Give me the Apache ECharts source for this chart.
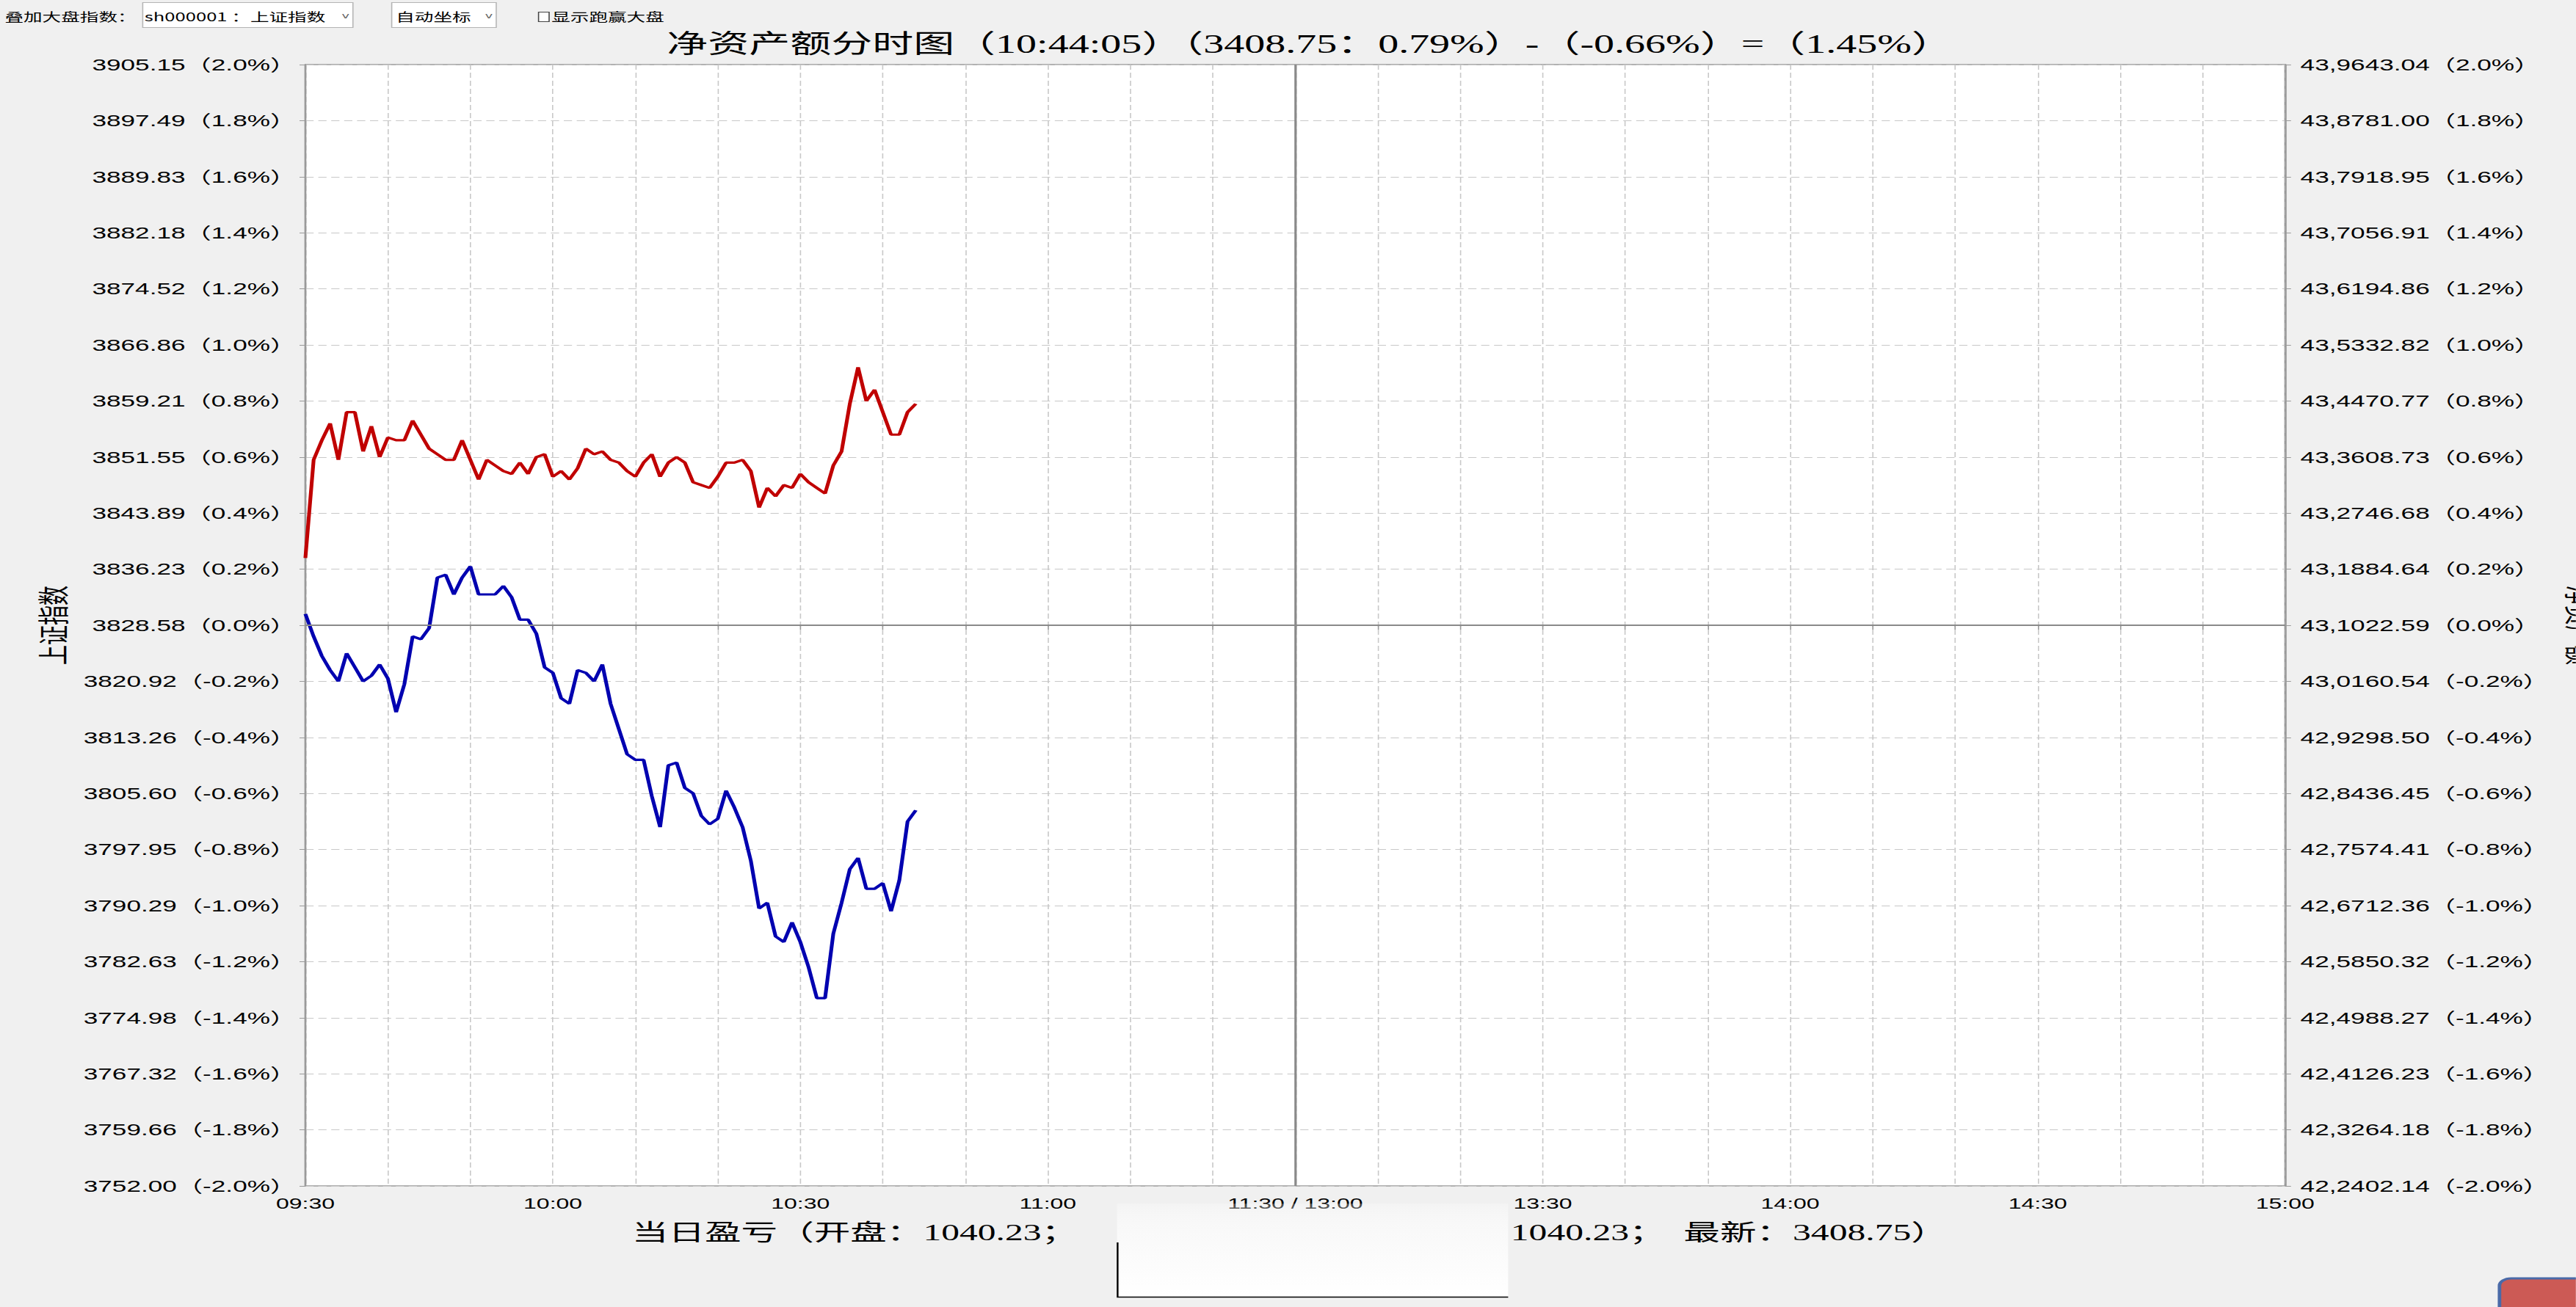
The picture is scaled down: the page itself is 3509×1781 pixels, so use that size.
<!DOCTYPE html>
<html>
<head>
<meta charset="utf-8">
<script src="https://cdn.jsdelivr.net/npm/echarts@6/dist/echarts.min.js"></script>
<style>
  html, body { margin:0; padding:0; background:#f0f0f0; overflow:hidden; width:3509px; height:1781px; }
  #wrap { position:absolute; left:0; top:0; width:2193.125px; height:1781px; transform:scaleX(1.6); transform-origin:0 0; }
  #chart { position:absolute; left:0; top:0; width:2193.125px; height:1781px; }
  .ui { position:absolute; font-family:"Noto Sans CJK SC", sans-serif; font-size:16px; color:#000; white-space:nowrap; line-height:20px; }
  .box { position:absolute; background:#fff; border:1px solid #b4b4b4; box-sizing:border-box; }
  .arrow { position:absolute; font-family:"DejaVu Sans", sans-serif; font-size:11px; color:#666; }
</style>
</head>
<body>
<div id="wrap">
  <div id="chart"></div>
  <div class="ui" style="left:4px;top:12px;">叠加大盘指数：</div>
  <div class="box" style="left:120.6px;top:3px;width:180.6px;height:35px;"></div>
  <div class="ui" style="left:123px;top:12px;">sh000001 ：上证指数</div>
  <div class="arrow" style="left:291px;top:15px;">v</div>
  <div class="box" style="left:332.5px;top:3px;width:90.6px;height:35px;"></div>
  <div class="ui" style="left:337px;top:12px;">自动坐标</div>
  <div class="arrow" style="left:413px;top:15px;">v</div>
  <div class="ui" style="left:457.5px;top:12px;"><span style="display:inline-block;width:8px;height:12px;border:1px solid #444;margin-right:2px;vertical-align:-1px;background:#fff;"></span>显示跑赢大盘</div>
</div>
<script>
// ---- data (percent change vs. previous close), one point per minute from 09:30 ----
const netAssetPct = [0.24,0.59,0.66,0.72,0.59,0.76,0.76,0.62,0.71,0.60,
  0.67,0.66,0.66,0.73,0.68,0.63,0.61,0.59,0.59,0.66,
  0.59,0.52,0.59,0.57,0.55,0.54,0.58,0.54,0.60,0.61,
  0.53,0.55,0.52,0.56,0.63,0.61,0.62,0.59,0.58,0.55,
  0.53,0.58,0.61,0.53,0.58,0.60,0.58,0.51,0.50,0.49,
  0.53,0.58,0.58,0.59,0.55,0.42,0.49,0.46,0.50,0.49,
  0.54,0.51,0.49,0.47,0.57,0.62,0.79,0.92,0.80,0.84,
  0.76,0.68,0.68,0.76,0.79];
const indexPct = [0.04,-0.04,-0.11,-0.16,-0.20,-0.10,-0.15,-0.20,-0.18,-0.14,
  -0.19,-0.31,-0.21,-0.04,-0.05,-0.01,0.17,0.18,0.11,0.17,
  0.21,0.11,0.11,0.11,0.14,0.10,0.02,0.02,-0.03,-0.15,
  -0.17,-0.26,-0.28,-0.16,-0.17,-0.20,-0.14,-0.28,-0.37,-0.46,
  -0.48,-0.48,-0.61,-0.72,-0.50,-0.49,-0.58,-0.60,-0.68,-0.71,
  -0.69,-0.59,-0.65,-0.72,-0.84,-1.01,-0.99,-1.11,-1.13,-1.06,
  -1.13,-1.22,-1.33,-1.33,-1.10,-0.99,-0.87,-0.83,-0.94,-0.94,
  -0.92,-1.02,-0.91,-0.70,-0.66];
const timeLabels = ['09:30','10:00','10:30','11:00','11:30 / 13:00','13:30','14:00','14:30','15:00'];
const leftTickValues = ['3752.00','3759.66','3767.32','3774.98','3782.63','3790.29','3797.95','3805.60','3813.26','3820.92',
  '3828.58','3836.23','3843.89','3851.55','3859.21','3866.86','3874.52','3882.18','3889.83','3897.49','3905.15'];
const rightTickValues = ['42,2402.14','42,3264.18','42,4126.23','42,4988.27','42,5850.32','42,6712.36','42,7574.41','42,8436.45','42,9298.50','43,0160.54',
  '43,1022.59','43,1884.64','43,2746.68','43,3608.73','43,4470.77','43,5332.82','43,6194.86','43,7056.91','43,7918.95','43,8781.00','43,9643.04'];
const pctTickLabels = ['-2.0%','-1.8%','-1.6%','-1.4%','-1.2%','-1.0%','-0.8%','-0.6%','-0.4%','-0.2%',
  '0.0%','0.2%','0.4%','0.6%','0.8%','1.0%','1.2%','1.4%','1.6%','1.8%','2.0%'];
const titleText = '净资产额分时图（10:44:05）（3408.75：0.79%）-（-0.66%）=（1.45%）';
const footLeft = '当日盈亏（开盘：1040.23；';
const footRight = '1040.23；  最新：3408.75）';

const chart = echarts.init(document.getElementById('chart'), null, { renderer: 'svg' });
const tickIdx = v => Math.round((v + 2) * 5);
const labelFont = '"Liberation Sans", "Noto Sans CJK SC", sans-serif';
const serifFont = '"Liberation Serif", "Noto Sans CJK SC", serif';

const option = {
  animation: false,
  backgroundColor: '#f0f0f0',
  grid: { left: 260, right: 247.5, top: 88, bottom: 165, outerBoundsMode: 'none', containLabel: false,
    show: true, backgroundColor: '#ffffff', borderColor: '#9a9a9a', borderWidth: 1.5 },
  xAxis: {
    type: 'value', min: 0, max: 240, interval: 10,
    axisLine: { lineStyle: { color: '#9a9a9a', width: 1.5 } },
    axisTick: { length: 6, lineStyle: { color: '#9a9a9a', width: 1 } },
    splitLine: { show: true, lineStyle: { color: '#c8c8c8', width: 1, type: [7, 4] } },
    axisLabel: {
      color: '#000', fontFamily: labelFont, fontSize: 20, margin: 14,
      formatter: v => (v % 30 === 0 ? timeLabels[v / 30] : '')
    }
  },
  yAxis: [
    {
      type: 'value', min: -2, max: 2, interval: 0.2, position: 'left',
      name: '上证指数', nameLocation: 'middle', nameGap: 198, nameRotate: 90,
      nameTextStyle: { color: '#000', fontFamily: serifFont, fontSize: 27 },
      axisLine: { show: true, lineStyle: { color: '#9a9a9a', width: 1.5 } },
      axisTick: { show: true, length: 5, lineStyle: { color: '#9a9a9a' } },
      splitLine: { show: true, lineStyle: { color: '#c8c8c8', width: 1, type: [7, 4] } },
      axisLabel: {
        color: '#000', fontFamily: labelFont, fontSize: 22, margin: 8,
        formatter: v => leftTickValues[tickIdx(v)] + '（' + pctTickLabels[tickIdx(v)] + '）'
      }
    },
    {
      type: 'value', min: -2, max: 2, interval: 0.2, position: 'right',
      name: '净资产额', nameLocation: 'middle', nameGap: 236, nameRotate: -90,
      nameTextStyle: { color: '#000', fontFamily: serifFont, fontSize: 27 },
      axisLine: { show: true, lineStyle: { color: '#9a9a9a', width: 1.5 } },
      axisTick: { show: true, length: 5, lineStyle: { color: '#9a9a9a' } },
      splitLine: { show: false },
      axisLabel: {
        color: '#000', fontFamily: labelFont, fontSize: 22, margin: 13,
        formatter: v => rightTickValues[tickIdx(v)] + '（' + pctTickLabels[tickIdx(v)] + '）'
      }
    }
  ],
  series: [
    {
      type: 'line', data: [], yAxisIndex: 0, z: 1,
      markLine: {
        silent: true, symbol: 'none', label: { show: false }, animation: false,
        lineStyle: { color: '#8a8a8a', width: 2, type: 'solid' },
        data: [{ yAxis: 0 }, { xAxis: 120 }]
      }
    },
    {
      name: '净资产额', type: 'line', yAxisIndex: 1, z: 3,
      data: netAssetPct.map((v, i) => [i, v]),
      showSymbol: false, lineStyle: { color: '#c00000', width: 3.2 }, itemStyle: { color: '#c00000' }
    },
    {
      name: '上证指数', type: 'line', yAxisIndex: 0, z: 3,
      data: indexPct.map((v, i) => [i, v]),
      showSymbol: false, lineStyle: { color: '#0000b0', width: 3.2 }, itemStyle: { color: '#0000b0' }
    }
  ],
  graphic: [
    { type: 'text', x: 1115, y: 60, style: { text: titleText, font: '35px ' + serifFont, fill: '#000', align: 'center', verticalAlign: 'middle', textAlign: 'center', textVerticalAlign: 'middle' } },
    { type: 'text', x: 538, y: 1680, style: { text: footLeft, font: '31px ' + serifFont, fill: '#000', align: 'left', verticalAlign: 'middle', textAlign: 'left', textVerticalAlign: 'middle' } },
    { type: 'text', x: 1658, y: 1680, style: { text: footRight, font: '31px ' + serifFont, fill: '#000', align: 'right', verticalAlign: 'middle', textAlign: 'right', textVerticalAlign: 'middle' } },
    { type: 'rect', z: 100, shape: { x: 951, y: 1640, width: 333, height: 128 },
      style: { fill: { type: 'linear', x: 0, y: 0, x2: 0, y2: 1, colorStops: [
        { offset: 0, color: 'rgba(255,255,255,0.25)' }, { offset: 0.35, color: 'rgba(250,250,250,0.95)' }, { offset: 1, color: 'rgba(255,255,255,1)' } ] } } },
    { type: 'polyline', z: 101, shape: { points: [[951.5, 1693], [951.5, 1767.5], [1284, 1767.5]] }, style: { stroke: '#000', lineWidth: 1.5, fill: null } },
    { type: 'rect', z: 100, shape: { x: 2128, y: 1742, width: 80, height: 60, r: 10 }, style: { fill: '#cc5a55', stroke: '#4a6aa8', lineWidth: 3 } }
  ]
};
chart.setOption(option);
</script>
</body>
</html>
